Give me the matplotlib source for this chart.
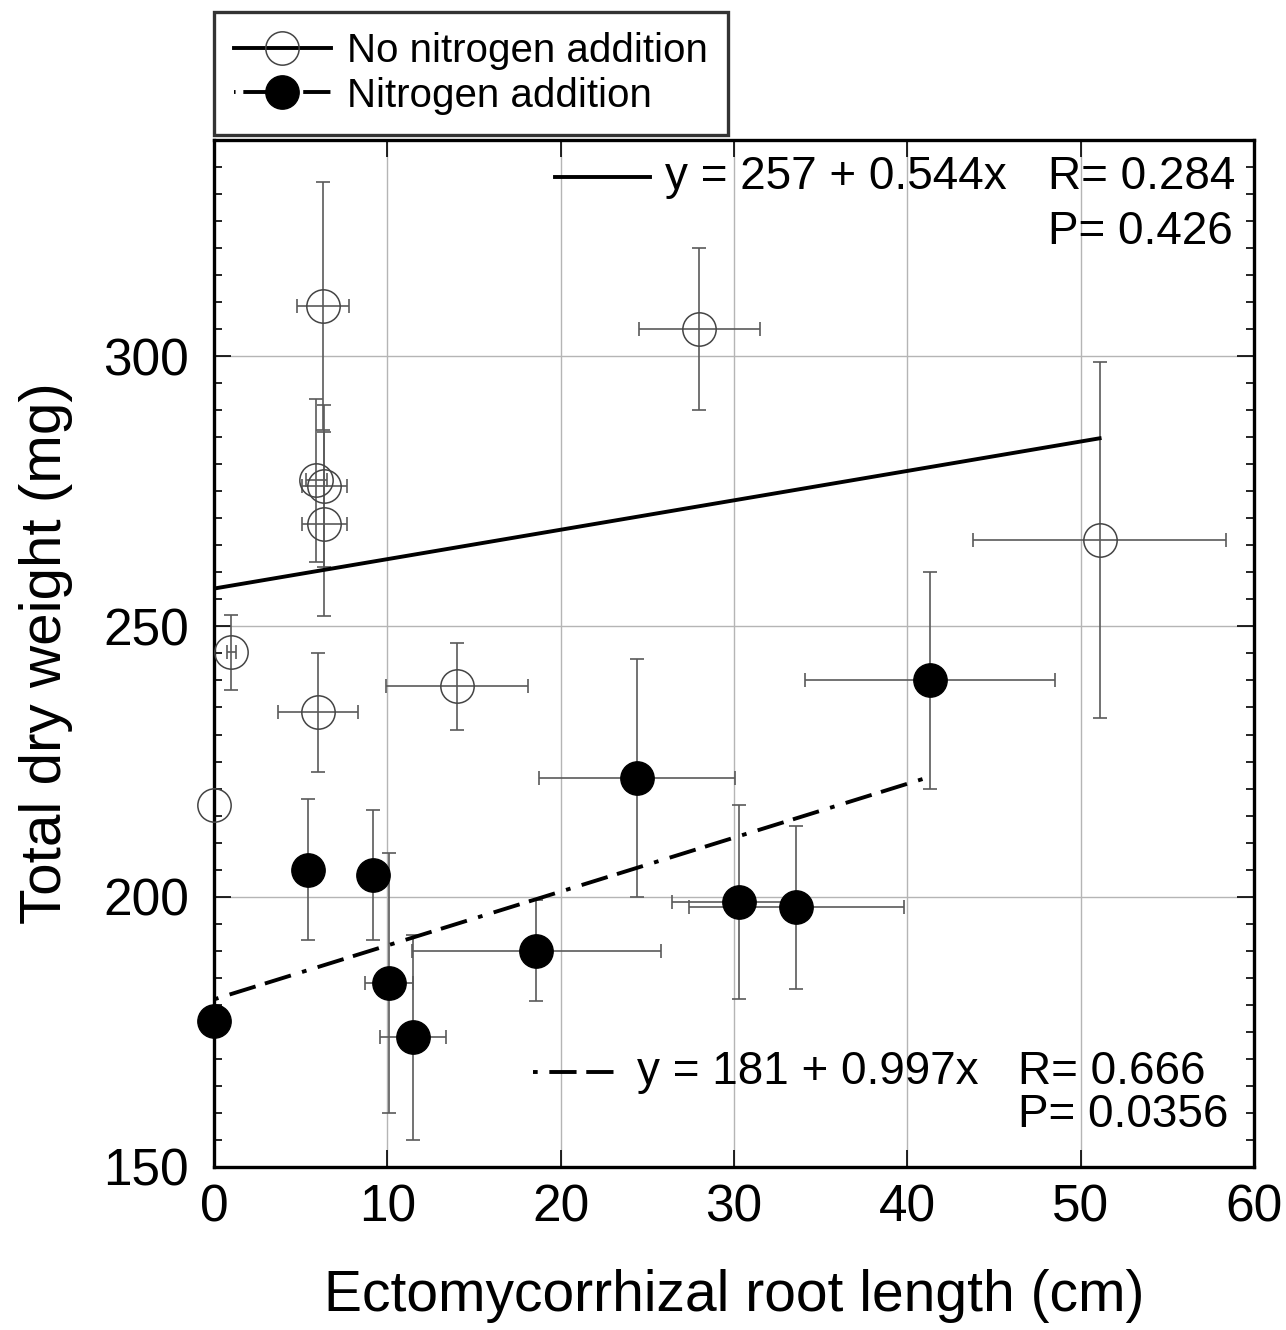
import numpy as np
import matplotlib
matplotlib.use('Agg')
import matplotlib.pyplot as plt
from matplotlib.lines import Line2D
from matplotlib.ticker import MultipleLocator

plt.rcParams['font.family'] = ['Liberation Sans', 'DejaVu Sans']

# No nitrogen addition (mean +/- SE)
root_no = np.array([6.3, 5.9, 6.35, 6.35, 1.0, 6.0, 14.0, 0.0, 28.0, 51.1])
weight_no = np.array([309.3, 277, 276, 269, 245.2, 234.1, 238.9, 217, 305, 266])
root_err_no = np.array([1.5, 0.6, 1.3, 1.3, 0.25, 2.3, 4.1, np.nan, 3.5, 7.3])
weight_err_no = np.array([23, 15, 15, 17, 7, 11, 8, np.nan, 15, 33])

# Nitrogen addition (mean +/- SE)
root_n = np.array([0.0, 5.4, 9.2, 10.1, 11.5, 18.6, 24.4, 41.3, 30.3, 33.6])
weight_n = np.array([177, 205, 204, 184, 174, 190, 222, 240, 199, 198])
root_err_n = np.array([np.nan, np.nan, np.nan, 1.4, 1.9, 7.2, 5.65, 7.2, 3.9, 6.2])
weight_err_n = np.array([np.nan, 13, 12, 24, 19, 9.3, 22, 20, 18, 15])

# regression fits: intercept, slope, R, P
fit_no = (257, 0.544, 0.284, 0.426)
fit_n = (181, 0.997, 0.666, 0.0356)

dashdot = (0, (1.2, 3, 7, 2.5, 7, 3))

fig = plt.figure(figsize=(12.86, 13.30), dpi=100)
ax = fig.add_axes([0.1664, 0.1226, 0.8086, 0.7722])

ax.set_xlim(0, 60)
ax.set_ylim(150, 340)
ax.xaxis.set_major_locator(MultipleLocator(10))
ax.set_yticks([150, 200, 250, 300])
ax.yaxis.set_minor_locator(MultipleLocator(5))
ax.grid(True, which='major', color='#b5b5b5', lw=1.0, zorder=0)
ax.set_axisbelow(True)

ax.tick_params(which='both', direction='in', top=True, right=True, width=1.2)
ax.tick_params(which='major', length=12, labelsize=37)
ax.tick_params(axis='y', which='major', pad=18)
ax.tick_params(axis='x', which='major', pad=12)
ax.tick_params(which='minor', length=6)
for s in ax.spines.values():
    s.set_linewidth(2.4)

err_kw = dict(fmt='none', ecolor='#5a5a5a', elinewidth=1.2, capsize=5, capthick=1.2, zorder=2)
ax.errorbar(root_no, weight_no, xerr=root_err_no, yerr=weight_err_no, **err_kw)
ax.errorbar(root_n, weight_n, xerr=root_err_n, yerr=weight_err_n, **err_kw)

# regression lines over the observed range
xx = np.array([0, root_no.max()])
ax.plot(xx, fit_no[0] + fit_no[1] * xx, color='k', lw=2.8, zorder=3)
xx = np.array([0, root_n.max()])
ax.plot(xx, fit_n[0] + fit_n[1] * xx, color='k', lw=2.8, ls=dashdot, zorder=3)

ax.plot(root_no, weight_no, 'o', ms=24, mfc='none', mec='#444444', mew=1.1,
        clip_on=False, zorder=4)
ax.plot(root_n, weight_n, 'o', ms=24, mfc='k', mec='k', clip_on=False, zorder=4)

# fit annotations
fs = 33
ax.plot([0.328, 0.419], [0.964, 0.964], color='k', lw=2.8, transform=ax.transAxes)
ax.text(0.434, 0.964, f'y = {fit_no[0]} + {fit_no[1]}x', fontsize=fs, va='center',
        transform=ax.transAxes)
ax.text(0.802, 0.964, f'R= {fit_no[2]}', fontsize=fs, va='center', transform=ax.transAxes)
ax.text(0.802, 0.910, f'P= {fit_no[3]}', fontsize=fs, va='center', transform=ax.transAxes)

ax.plot([0.307, 0.392], [0.0925, 0.0925], color='k', lw=2.8, ls=dashdot,
        transform=ax.transAxes)
ax.text(0.407, 0.0925, f'y = {fit_n[0]} + {fit_n[1]}x', fontsize=fs, va='center',
        transform=ax.transAxes)
ax.text(0.773, 0.0925, f'R= {fit_n[2]}', fontsize=fs, va='center', transform=ax.transAxes)
ax.text(0.773, 0.0506, f'P= {fit_n[3]}', fontsize=fs, va='center', transform=ax.transAxes)

ax.set_xlabel('Ectomycorrhizal root length (cm)', fontsize=41, labelpad=26)
ax.set_ylabel('Total dry weight (mg)', fontsize=42, labelpad=22)

handles = [
    Line2D([], [], color='k', lw=2.8, marker='o', ms=24, mfc='none', mec='#444444', mew=1.1),
    Line2D([], [], color='k', lw=2.8, ls=(4, (1.2, 2, 1.2, 2, 7, 2)), marker='o', ms=24,
           mfc='k', mec='k'),
]
leg = fig.legend(handles, ['No nitrogen addition', 'Nitrogen addition'],
                 loc='upper left', bbox_to_anchor=(0.1664, 0.991), fontsize=29,
                 frameon=True, fancybox=False, handlelength=2.4, handletextpad=0.4,
                 labelspacing=0.16, borderpad=0.5, borderaxespad=0)
leg.get_frame().set_edgecolor('k')
leg.get_frame().set_linewidth(2.4)

fig.savefig('out.png', dpi=100)
